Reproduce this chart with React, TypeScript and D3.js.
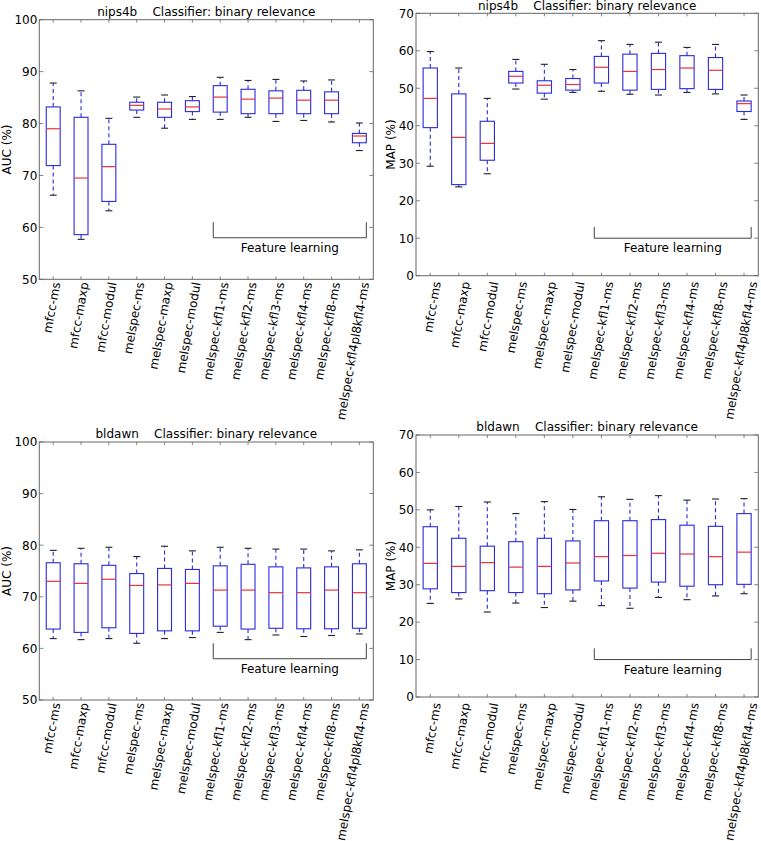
import React, { useEffect, useRef } from 'react';
import * as d3 from 'd3';

const categories = [
  'mfcc-ms', 'mfcc-maxp', 'mfcc-modul', 'melspec-ms', 'melspec-maxp', 'melspec-modul',
  'melspec-kfl1-ms', 'melspec-kfl2-ms', 'melspec-kfl3-ms', 'melspec-kfl4-ms', 'melspec-kfl8-ms',
  'melspec-kfl4pl8kfl4-ms',
];

// each entry: [lower whisker, Q1, median, Q3, upper whisker]
const aucNips4b = [
  [66.2, 71.9, 79.0, 83.2, 87.8],
  [57.7, 58.6, 69.5, 81.2, 86.3],
  [63.2, 65.0, 71.7, 76.0, 81.0],
  [81.2, 82.6, 83.5, 84.1, 85.1],
  [79.1, 81.2, 82.8, 84.1, 85.5],
  [80.8, 82.3, 83.2, 84.4, 85.2],
  [80.8, 82.2, 85.1, 87.3, 88.9],
  [81.2, 81.9, 84.7, 86.6, 88.3],
  [80.4, 81.9, 84.9, 86.3, 88.5],
  [80.6, 81.9, 84.5, 86.4, 88.2],
  [80.3, 81.9, 84.5, 86.1, 88.4],
  [74.8, 76.3, 77.6, 78.1, 80.1],
];

const mapNips4b = [
  [29.2, 39.5, 47.3, 55.4, 59.8],
  [23.7, 24.3, 36.9, 48.5, 55.4],
  [27.2, 30.8, 35.3, 41.2, 47.3],
  [49.8, 51.4, 53.2, 54.5, 57.7],
  [47.1, 48.7, 50.8, 52.0, 56.4],
  [48.9, 49.5, 51.0, 52.6, 55.0],
  [49.2, 51.4, 55.6, 58.5, 62.7],
  [48.4, 49.5, 54.5, 59.1, 61.7],
  [48.2, 49.7, 55.0, 59.3, 62.3],
  [48.9, 49.9, 55.4, 58.7, 60.9],
  [48.5, 49.7, 54.8, 58.2, 61.7],
  [41.7, 43.8, 45.9, 46.6, 48.2],
];

const aucBldawn = [
  [61.9, 63.75, 73.0, 76.6, 79.0],
  [61.7, 63.1, 72.6, 76.4, 79.4],
  [61.9, 64.0, 73.4, 76.1, 79.6],
  [61.0, 62.9, 72.2, 74.5, 77.8],
  [61.9, 63.4, 72.3, 75.5, 79.8],
  [62.1, 63.4, 72.6, 75.3, 78.9],
  [63.1, 64.3, 71.3, 76.0, 79.6],
  [61.7, 63.75, 71.3, 76.3, 79.4],
  [62.6, 63.9, 70.8, 75.8, 79.25],
  [62.3, 63.8, 70.8, 75.6, 79.25],
  [62.5, 63.8, 71.3, 75.8, 78.9],
  [62.8, 63.9, 70.8, 76.4, 79.1],
];

const mapBldawn = [
  [25.0, 28.9, 35.7, 45.5, 50.0],
  [26.2, 27.9, 34.9, 42.4, 50.9],
  [22.7, 28.4, 35.9, 40.3, 52.1],
  [25.1, 27.9, 34.7, 41.5, 49.0],
  [23.9, 27.6, 34.9, 42.4, 52.2],
  [25.6, 28.6, 35.8, 41.7, 50.1],
  [24.4, 31.0, 37.5, 47.1, 53.5],
  [23.7, 29.1, 37.8, 47.1, 52.8],
  [26.6, 30.7, 38.4, 47.4, 53.8],
  [26.0, 29.6, 38.2, 45.9, 52.6],
  [27.0, 30.0, 37.5, 45.6, 52.9],
  [27.6, 30.1, 38.7, 49.0, 53.0],
];

const aucTicks = [50, 60, 70, 80, 90, 100];
const mapTicks = [0, 10, 20, 30, 40, 50, 60, 70];
const datasets = ['nips4b', 'bldawn'];
const featureSpan = [6.75, 12.25];
const featureLabel = 'Feature learning';
const classifierText = 'Classifier: binary relevance';

const FONT = "'DejaVu Sans', sans-serif";
const FS = 12;

interface Panel {
  data: number[][];
  dataset: string;
  ylabel: string;
  domain: [number, number];
  ticks: number[];
  bracket: [number, number];
  left: number; right: number; top: number; bottom: number;
  ylabelX: number;
  labelOffset: number;
  titleGap: number;
}

const panels: Panel[] = [
  { data: aucNips4b, dataset: datasets[0], ylabel: 'AUC (%)', domain: [50, 100], ticks: aucTicks, bracket: [58, 61],
    left: 39.3, right: 373.3, top: 19.7, bottom: 279.3, ylabelX: 10.5, labelOffset: 5.5, titleGap: 4.2 },
  { data: mapNips4b, dataset: datasets[0], ylabel: 'MAP (%)', domain: [0, 70], ticks: mapTicks, bracket: [10, 13],
    left: 416, right: 758.3, top: 13.3, bottom: 275.7, ylabelX: 394.5, labelOffset: 9, titleGap: 3.3 },
  { data: aucBldawn, dataset: datasets[1], ylabel: 'AUC (%)', domain: [50, 100], ticks: aucTicks, bracket: [58, 61],
    left: 39.3, right: 373.3, top: 442, bottom: 700, ylabelX: 10.5, labelOffset: 5.5, titleGap: 4.2 },
  { data: mapBldawn, dataset: datasets[1], ylabel: 'MAP (%)', domain: [0, 70], ticks: mapTicks, bracket: [10, 13],
    left: 416, right: 758.3, top: 435, bottom: 697, ylabelX: 394.5, labelOffset: 9, titleGap: 4 },
];

const BLUE = '#2a2ae0';
const RED = '#e8333a';
const CAP = '#222';
const SPINE = '#666';

function drawPanel(svg: d3.Selection<SVGSVGElement, unknown, null, undefined>, p: Panel) {
  const x = d3.scaleLinear().domain([0.5, categories.length + 0.5]).range([p.left, p.right]);
  const y = d3.scaleLinear().domain(p.domain).range([p.bottom, p.top]);
  const unit = x(1) - x(0);
  const g = svg.append('g');

  // boxes
  p.data.forEach((d, i) => {
    const cx = x(i + 1);
    const [lo, q1, med, q3, hi] = d;
    g.append('line').attr('x1', cx).attr('x2', cx).attr('y1', y(q3)).attr('y2', y(hi))
      .attr('stroke', BLUE).attr('stroke-width', 1.1).attr('stroke-dasharray', '4,3');
    g.append('line').attr('x1', cx).attr('x2', cx).attr('y1', y(q1)).attr('y2', y(lo))
      .attr('stroke', BLUE).attr('stroke-width', 1.1).attr('stroke-dasharray', '4,3');
    [lo, hi].forEach(v => {
      g.append('line').attr('x1', cx - unit * 0.125).attr('x2', cx + unit * 0.125)
        .attr('y1', y(v)).attr('y2', y(v)).attr('stroke', CAP).attr('stroke-width', 1.1);
    });
    g.append('rect').attr('x', cx - unit * 0.25).attr('y', y(q3)).attr('width', unit * 0.5)
      .attr('height', y(q1) - y(q3)).attr('fill', 'none').attr('stroke', BLUE).attr('stroke-width', 1.1);
    g.append('line').attr('x1', cx - unit * 0.25).attr('x2', cx + unit * 0.25)
      .attr('y1', y(med)).attr('y2', y(med)).attr('stroke', RED).attr('stroke-width', 1.2);
  });

  // spines
  g.append('rect').attr('x', p.left).attr('y', p.top).attr('width', p.right - p.left)
    .attr('height', p.bottom - p.top).attr('fill', 'none').attr('stroke', SPINE).attr('stroke-width', 1);

  // x ticks (inward, bottom and top)
  categories.forEach((c, i) => {
    const cx = x(i + 1);
    g.append('line').attr('x1', cx).attr('x2', cx).attr('y1', p.bottom).attr('y2', p.bottom - 3)
      .attr('stroke', SPINE).attr('stroke-width', 0.8);
    g.append('line').attr('x1', cx).attr('x2', cx).attr('y1', p.top).attr('y2', p.top + 3)
      .attr('stroke', SPINE).attr('stroke-width', 0.8);
    const t = g.append('text').text(c).attr('font-family', FONT).attr('font-size', FS)
      .attr('fill', '#000').attr('text-anchor', 'end');
    const L = (t.node() as SVGTextElement).getComputedTextLength();
    const px = cx + 0.03 * L + p.labelOffset;
    const py = p.bottom + 3.7 + (p.labelOffset > 6 ? 3 : 0);
    t.attr('transform', `translate(${px},${py}) rotate(-80)`);
  });

  // y ticks
  p.ticks.forEach(v => {
    const yy = y(v);
    g.append('line').attr('x1', p.left).attr('x2', p.left + 4).attr('y1', yy).attr('y2', yy)
      .attr('stroke', SPINE).attr('stroke-width', 0.8);
    g.append('line').attr('x1', p.right).attr('x2', p.right - 4).attr('y1', yy).attr('y2', yy)
      .attr('stroke', SPINE).attr('stroke-width', 0.8);
    g.append('text').text(String(v)).attr('x', p.left - 2).attr('y', yy).attr('dy', '0.36em')
      .attr('text-anchor', 'end').attr('font-family', FONT).attr('font-size', FS).attr('fill', '#000');
  });

  // title
  g.append('text').text(`${p.dataset}    ${classifierText}`)
    .attr('x', (p.left + p.right) / 2).attr('y', p.top - p.titleGap).attr('text-anchor', 'middle')
    .attr('font-family', FONT).attr('font-size', FS).attr('fill', '#000').style('white-space', 'pre');

  // y label
  g.append('text').text(p.ylabel)
    .attr('transform', `translate(${p.ylabelX},${(p.top + p.bottom) / 2}) rotate(-90)`)
    .attr('text-anchor', 'middle').attr('font-family', FONT).attr('font-size', FS).attr('fill', '#000');

  // feature learning bracket
  const bx0 = x(featureSpan[0]);
  const bx1 = x(featureSpan[1]);
  const by0 = y(p.bracket[0]);
  const by1 = y(p.bracket[1]);
  g.append('path').attr('d', `M${bx0},${by1}L${bx0},${by0}L${bx1},${by0}L${bx1},${by1}`)
    .attr('fill', 'none').attr('stroke', '#444').attr('stroke-width', 1);
  g.append('text').text(featureLabel).attr('x', (bx0 + bx1) / 2).attr('y', by0 + 14)
    .attr('text-anchor', 'middle').attr('font-family', FONT).attr('font-size', FS).attr('fill', '#000');
}

export default function App() {
  const ref = useRef<SVGSVGElement>(null);
  useEffect(() => {
    if (!ref.current) return;
    const svg = d3.select(ref.current);
    svg.selectAll('*').remove();
    panels.forEach(p => drawPanel(svg, p));
  }, []);
  return (
    <div style={{ position: 'absolute', left: 0, top: 0 }}>
      <svg ref={ref} width={761} height={841} style={{ display: 'block', background: '#fff' }} />
    </div>
  );
}
